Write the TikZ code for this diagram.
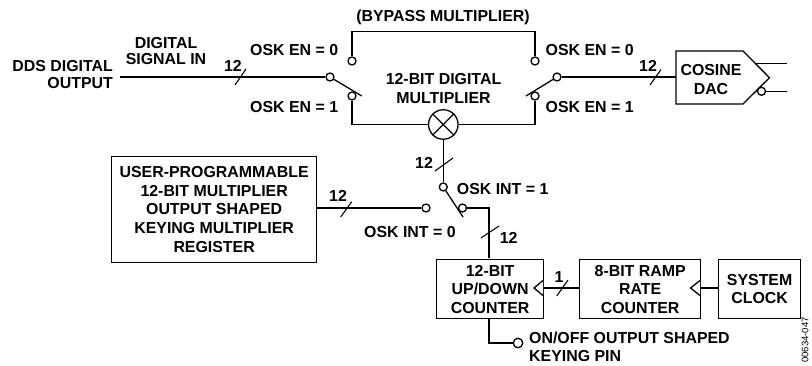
\documentclass[tikz,border=0pt]{standalone}
\usepackage{fontspec}
\setmainfont{Liberation Sans}
\tikzset{
 wire/.style={line width=1.3pt,line cap=butt,line join=miter},
 slashmark/.style={line width=1.1pt},
 lab/.style={inner sep=0pt,font=\fontsize{15.9}{18.6}\selectfont\bfseries,align=center},
 labl/.style={lab,anchor=west,align=left},
 labr/.style={lab,anchor=east,align=right},
 boxnode/.style={draw,line width=1.3pt,inner sep=0pt,anchor=north west,lab},
 term/.style={circle,draw,line width=1.3pt,minimum size=8pt,inner sep=0pt,fill=white},
}
\begin{document}
\begin{tikzpicture}[x=1pt,y=-1pt]
\useasboundingbox (0,0) rectangle (812,366);
% terminals
\node[term] (a0) at (352,61) {};
\node[term] (a1) at (352,96) {};
\node[term] (ap) at (330,77) {};
\node[term] (b0) at (535,61) {};
\node[term] (b1) at (535,96) {};
\node[term] (bp) at (557,77) {};
\node[circle,draw,line width=1.3pt,minimum size=29.5pt,inner sep=0pt] (mix) at (443.3,124.5) {};
\node[term] (cp) at (443.3,187) {};
\node[term] (c1) at (462.5,208) {};
\node[term] (c0) at (426,208) {};
\node[term,minimum size=9.5pt] (pin) at (518,343) {};
\coordinate (inl) at (120,77);
\coordinate (t1) at (352,31.5);
\coordinate (t2) at (535,31.5);
\coordinate (lev1) at (361.7,96);
\coordinate (lev2) at (526,96);
\coordinate (lev3) at (463,217);
% boxes
\node[boxnode,minimum width=205pt,minimum height=106pt] (reg) at (111,155.7) {USER-PROGRAMMABLE\\12-BIT MULTIPLIER\\OUTPUT SHAPED\\KEYING MULTIPLIER\\REGISTER};
\node[boxnode,minimum width=107pt,minimum height=59pt] (cnt) at (436,259) {12-BIT\\UP/DOWN\\COUNTER};
\node[boxnode,minimum width=121pt,minimum height=59pt] (ramp) at (579,259) {8-BIT RAMP\\RATE\\COUNTER};
\node[boxnode,minimum width=82pt,minimum height=59pt] (clk) at (718,259) {SYSTEM\\CLOCK};
% DAC
\draw[wire] (676,51) -- (743,51) -- (769.5,77.7) -- (743,104) -- (676,104) -- cycle;
\coordinate (dac) at (676,77);
\node[lab] (dact) at (711,79.5) {COSINE\\DAC};
\coordinate (o1s) at (755.5,63.3);
\coordinate (o1e) at (787,63.3);
\node[term] (o2s) at (761.5,91.3) {};
\coordinate (o2e) at (787,91.3);
\draw[wire] (o1s) -- (o1e);
\draw[wire] (o2s) -- (o2e);
% wires
\draw[wire] (inl) -- (ap);
\draw[wire] (ap) -- (lev1);
\draw[wire] (a0) -- (t1) -- (t2) -- (b0);
\draw[wire] (a1) |- (mix);
\draw[wire] (b1) |- (mix);
\draw[wire] (bp) -- (lev2);
\draw[wire] (bp) -- (dac);
\draw[wire] (mix.north west) -- (mix.south east);
\draw[wire] (mix.north east) -- (mix.south west);
\draw[wire] (mix) -- (cp);
\draw[wire] (cp) -- (lev3);
\draw[wire] (c1) -| (489,258);
\draw[wire] (reg.east |- c0) -- (c0);
\draw[wire] (489,318) |- (pin);
% clock wires and triangles
\draw[wire] (ramp.west |- 0,288) -- (543,288);
\draw[wire] (clk.west |- 0,288) -- (700,288);
\draw[wire,fill=white] (543,280.5) -- (534,288) -- (543,295.5);
\draw[wire,fill=white] (700,280.5) -- (690.5,288) -- (700,295.5);
% bus slashes
\draw[slashmark] (235,85) -- (246,69);
\draw[slashmark] (650,85) -- (661,69.5);
\draw[slashmark] (435,171) -- (453,158);
\draw[slashmark] (481,238) -- (499,226);
\draw[slashmark] (340.7,217) -- (351.7,201.7);
\draw[slashmark] (556.7,296) -- (568,280);
% labels
\node[lab] (n1) at (233,66) {12};
\node[lab] (n2) at (648,66) {12};
\node[lab] (n3) at (424,163) {12};
\node[lab] (n4) at (508.7,237.5) {12};
\node[lab] (n5) at (338,196) {12};
\node[lab] (n6) at (559,277) {1};
\node[lab] (byp) at (443,17.5) {(BYPASS MULTIPLIER)};
\node[lab] (mult) at (443.5,88.5) {12-BIT DIGITAL\\MULTIPLIER};
\node[labr,font=\fontsize{15.9}{17.3}\selectfont\bfseries] (dds) at (113,74.5) {DDS DIGITAL\\OUTPUT};
\node[lab,font=\fontsize{15.9}{16.8}\selectfont\bfseries] (sig) at (166,51) {DIGITAL\\SIGNAL IN};
\node[labl] (e1) at (250,50) {OSK EN = 0};
\node[labl] (e2) at (250,107.5) {OSK EN = 1};
\node[labl] (e3) at (545.5,50) {OSK EN = 0};
\node[labl] (e4) at (545.5,107.5) {OSK EN = 1};
\node[labl] (i1) at (456.7,189) {OSK INT = 1};
\node[labl] (i0) at (364,232) {OSK INT = 0};
\node[labl] (pint) at (529,347) {ON/OFF OUTPUT SHAPED\\KEYING PIN};
\node[rotate=90,inner sep=0pt,anchor=east,font=\fontsize{9.5}{10}\selectfont] (code) at (805,317) {00634-047};
\end{tikzpicture}
\end{document}
